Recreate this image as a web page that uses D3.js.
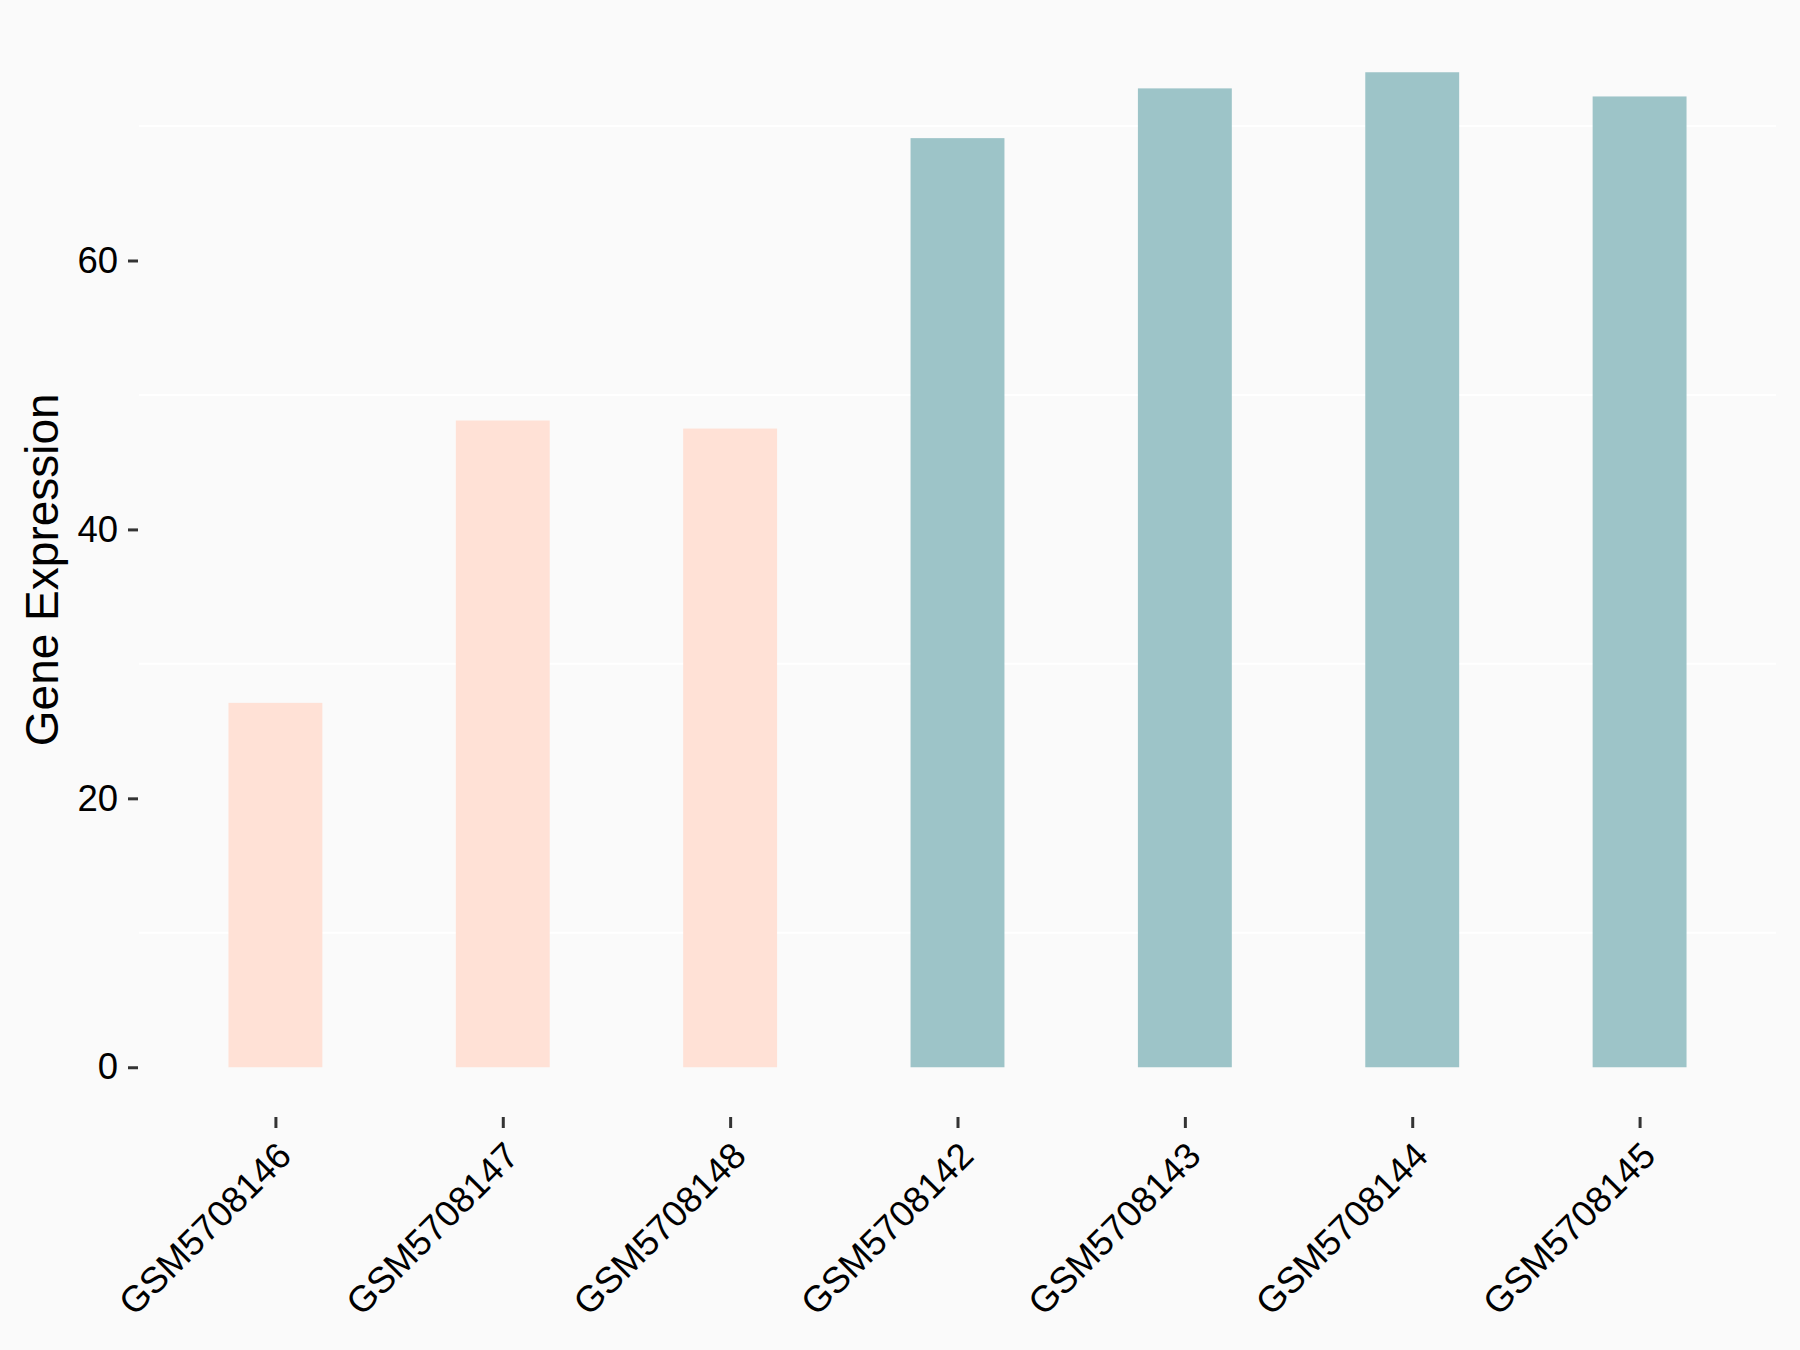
<!DOCTYPE html>
<html>
<head>
<meta charset="utf-8">
<script src="https://cdn.jsdelivr.net/npm/d3@7"></script>
<style>
  body { margin: 0; background: #fafafa; }
  svg { display: block; }
</style>
</head>
<body>
<script>
const samples = ["GSM5708146", "GSM5708147", "GSM5708148", "GSM5708142", "GSM5708143", "GSM5708144", "GSM5708145"];
const expression = [27.1, 48.1, 47.5, 69.1, 72.8, 74.0, 72.2];
const groups = ["A", "A", "A", "B", "B", "B", "B"];
const yTicks = [0, 20, 40, 60];
const minorTicks = [10, 30, 50, 70];

const width = 1800, height = 1350;
const panel = { left: 139, right: 1776, top: 22.5, bottom: 1117 };

var color = d3.scaleOrdinal()
    .domain(["A", "B"])
    .range(["#ffe1d6", "#9dc4c8"]);

var svg = d3.select("body").append("svg")
    .attr("width", width)
    .attr("height", height);

svg.append("rect")
    .attr("width", width)
    .attr("height", height)
    .attr("fill", "#fafafa");

// ggplot style 5% expansion on y
var yMax = d3.max(expression);
var y = d3.scaleLinear()
    .domain([-yMax * 0.05, yMax * 1.05])
    .range([panel.bottom, panel.top]);

var x = d3.scalePoint()
    .domain(samples)
    .range([panel.left, panel.right])
    .padding(0.6);

var barWidth = x.step() * 0.413;

// minor grid lines
svg.append("g")
    .selectAll("line")
    .data(minorTicks)
    .enter()
    .append("line")
    .attr("x1", panel.left)
    .attr("x2", panel.right)
    .attr("y1", d => y(d))
    .attr("y2", d => y(d))
    .attr("stroke", "#ffffff")
    .attr("stroke-width", 2);

// bars
svg.append("g")
    .selectAll("rect")
    .data(samples)
    .enter()
    .append("rect")
    .attr("x", d => x(d) - barWidth / 2)
    .attr("width", barWidth)
    .attr("y", (d, i) => y(expression[i]))
    .attr("height", (d, i) => y(0) - y(expression[i]))
    .attr("fill", (d, i) => color(groups[i]));

// y axis
var yAxis = svg.append("g")
    .attr("transform", "translate(" + (panel.left - 1) + ",0)")
    .call(d3.axisLeft(y).tickValues(yTicks).tickSize(10).tickPadding(10));
yAxis.select(".domain").remove();
yAxis.selectAll(".tick line")
    .attr("stroke", "#333333")
    .attr("stroke-width", 3);
yAxis.selectAll(".tick text")
    .attr("fill", "#000000")
    .style("font-family", "'Liberation Sans', Arial, sans-serif")
    .style("font-size", "36.5px");

// x axis
var xAxis = svg.append("g")
    .attr("transform", "translate(0," + panel.bottom + ")")
    .call(d3.axisBottom(x).tickSize(11).tickFormat(""));
xAxis.select(".domain").remove();
xAxis.selectAll(".tick line")
    .attr("stroke", "#333333")
    .attr("stroke-width", 3);

svg.append("g")
    .selectAll("text")
    .data(samples)
    .enter()
    .append("text")
    .attr("transform", d => "translate(" + (x(d) + 18) + "," + (panel.bottom + 41) + ") rotate(-45)")
    .attr("text-anchor", "end")
    .attr("fill", "#000000")
    .style("font-family", "'Liberation Sans', Arial, sans-serif")
    .style("font-size", "36.5px")
    .text(d => d);

// y title
svg.append("text")
    .attr("transform", "translate(58," + ((panel.top + panel.bottom) / 2) + ") rotate(-90)")
    .attr("text-anchor", "middle")
    .attr("fill", "#000000")
    .style("font-family", "'Liberation Sans', Arial, sans-serif")
    .style("font-size", "46px")
    .text("Gene Expression");
</script>
</body>
</html>
